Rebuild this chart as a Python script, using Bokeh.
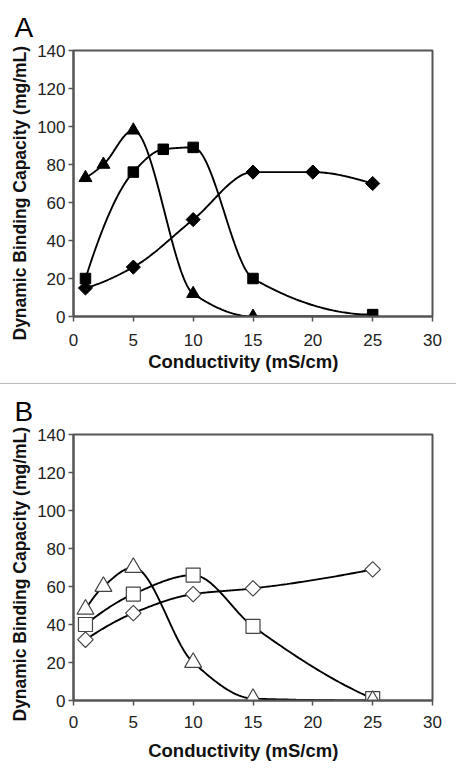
import numpy as np
from bokeh.plotting import figure
from bokeh.layouts import column
from bokeh.models import Spacer, Range1d, FixedTicker, Title
from bokeh.embed import file_html
from bokeh.resources import INLINE

# ---------------- data ----------------
x_ticks = [0, 5, 10, 15, 20, 25, 30]
y_ticks = [0, 20, 40, 60, 80, 100, 120, 140]

# Panel A (filled markers)
a_tri_x = [1, 2.5, 5, 10, 15, 25]
a_tri_y = [73, 80, 98, 12, 0, 0]
a_sq_x = [1, 5, 7.5, 10, 15, 25]
a_sq_y = [20, 76, 88, 89, 20, 1]
a_dia_x = [1, 5, 10, 15, 20, 25]
a_dia_y = [15, 26, 51, 76, 76, 70]

# Panel B (open markers)
b_tri_x = [1, 2.5, 5, 10, 15, 25]
b_tri_y = [48, 60, 70, 20, 1, 0]
b_sq_x = [1, 5, 10, 15, 25]
b_sq_y = [40, 56, 66, 39, 1]
b_dia_x = [1, 5, 10, 15, 25]
b_dia_y = [32, 46, 56, 59, 69]

X_TITLE = "Conductivity (mS/cm)"
Y_TITLE = "Dynamic Binding Capacity (mg/mL)"
FONT = "Liberation Sans"


def pchip(xs, ys, n=40):
    x = np.asarray(xs, float)
    y = np.asarray(ys, float)
    h = np.diff(x)
    d = np.diff(y) / h
    m = np.zeros_like(x)
    for k in range(1, len(x) - 1):
        if d[k - 1] * d[k] <= 0:
            m[k] = 0.0
        else:
            w1 = 2 * h[k] + h[k - 1]
            w2 = h[k] + 2 * h[k - 1]
            m[k] = (w1 + w2) / (w1 / d[k - 1] + w2 / d[k])

    def edge(h0, h1, d0, d1):
        s = ((2 * h0 + h1) * d0 - h0 * d1) / (h0 + h1)
        if np.sign(s) != np.sign(d0):
            s = 0.0
        elif np.sign(d0) != np.sign(d1) and abs(s) > abs(3 * d0):
            s = 3 * d0
        return s

    m[0] = edge(h[0], h[1], d[0], d[1])
    m[-1] = edge(h[-1], h[-2], d[-1], d[-2])
    sx, sy = [], []
    for k in range(len(x) - 1):
        t = np.linspace(0, 1, n)
        if k > 0:
            t = t[1:]
        h00 = 2 * t ** 3 - 3 * t ** 2 + 1
        h10 = t ** 3 - 2 * t ** 2 + t
        h01 = -2 * t ** 3 + 3 * t ** 2
        h11 = t ** 3 - t ** 2
        sx.append(x[k] + t * h[k])
        sy.append(h00 * y[k] + h10 * h[k] * m[k] + h01 * y[k + 1] + h11 * h[k] * m[k + 1])
    return np.concatenate(sx), np.concatenate(sy)


def make_panel(letter, height, top, bottom, tick_standoff, letter_standoff,
               xt_standoff, yt_offset):
    p = figure(width=456, height=height, output_backend="svg", toolbar_location=None,
               x_range=Range1d(0, 30), y_range=Range1d(0, 140),
               min_border_left=73, min_border_right=24,
               min_border_top=top, min_border_bottom=bottom)
    p.grid.visible = False
    p.background_fill_color = "white"
    p.border_fill_color = "white"
    p.outline_line_color = "#555555"
    p.outline_line_width = 2
    for ax in (p.xaxis[0], p.yaxis[0]):
        ax.axis_line_color = "#555555"
        ax.axis_line_width = 2
        ax.major_tick_line_color = "#555555"
        ax.major_tick_line_width = 1.5
        ax.major_tick_out = 5
        ax.major_tick_in = 0
        ax.minor_tick_line_color = None
        ax.major_label_text_font = FONT
        ax.major_label_text_font_size = "17px"
        ax.major_label_text_color = "#222222"
    p.xaxis.ticker = FixedTicker(ticks=x_ticks)
    p.yaxis.ticker = FixedTicker(ticks=y_ticks)
    p.xaxis.major_label_standoff = tick_standoff
    p.yaxis.major_label_standoff = 3

    # panel letter
    p.title.text = letter
    p.title.align = "left"
    p.title.offset = -59
    p.title.standoff = letter_standoff
    p.title.text_font = FONT
    p.title.text_font_size = "28px"
    p.title.text_font_style = "normal"
    p.title.text_color = "black"

    p.add_layout(Title(text=X_TITLE, align="left", offset=74.7, vertical_align="top",
                       standoff=xt_standoff, text_font=FONT, text_font_size="18.5px",
                       text_font_style="bold", text_color="#111111"), "below")
    p.add_layout(Title(text=Y_TITLE, align="left", offset=yt_offset, vertical_align="bottom",
                       standoff=10, text_font=FONT, text_font_size="17.5px",
                       text_font_style="bold", text_color="#111111"), "left")
    return p


# ---------------- panel A ----------------
pa = make_panel("A", 383, 50, 67, 12, 16, 4, -24)
for xs, ys in ((a_tri_x, a_tri_y), (a_sq_x, a_sq_y), (a_dia_x, a_dia_y)):
    sx, sy = pchip(xs, ys)
    pa.line(sx, sy, line_color="black", line_width=1.9)
pa.scatter(a_tri_x, a_tri_y, marker="triangle", size=13, fill_color="black", line_color="black")
pa.scatter(a_sq_x, a_sq_y, marker="square", size=10.5, fill_color="black", line_color="black")
pa.scatter(a_dia_x, a_dia_y, marker="square", angle=np.pi / 4, size=10,
           fill_color="black", line_color="black")

# ---------------- panel B ----------------
pb = make_panel("B", 392, 50, 76, 10, 16, 18, -21)
for xs, ys in ((b_tri_x, b_tri_y), (b_sq_x, b_sq_y), (b_dia_x, b_dia_y)):
    sx, sy = pchip(xs, ys)
    pb.line(sx, sy, line_color="black", line_width=1.9)
pb.scatter(b_dia_x, b_dia_y, marker="square", angle=np.pi / 4, size=11,
           fill_color="white", line_color="#444444", line_width=1.2)
pb.scatter(b_sq_x, b_sq_y, marker="square", size=14,
           fill_color="white", line_color="#444444", line_width=1.2)
pb.scatter(b_tri_x, b_tri_y, marker="triangle", size=17,
           fill_color="white", line_color="#444444", line_width=1.2)

sep = Spacer(width=456, height=1, styles={"background-color": "#bbbbbb"})

layout = column(pa, sep, pb, spacing=0)

open("out.html", "w").write(file_html(layout, INLINE))
